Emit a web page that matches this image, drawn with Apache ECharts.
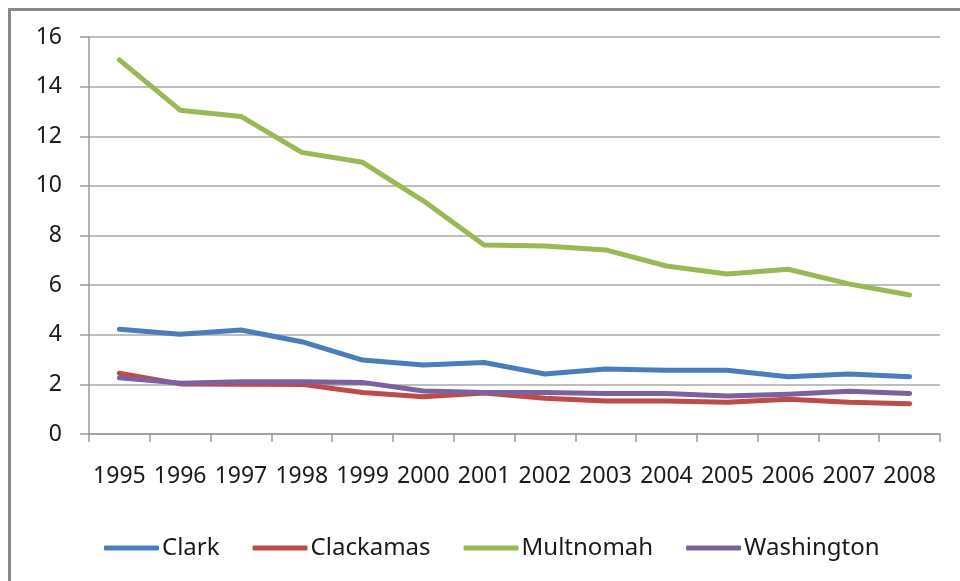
<!DOCTYPE html>
<html>
<head>
<meta charset="utf-8">
<script src="https://cdn.jsdelivr.net/npm/echarts@6/dist/echarts.min.js"></script>
<style>html,body{margin:0;padding:0;background:#fff;}#c{width:960px;height:581px;}</style>
</head>
<body>
<div id="c"></div>
<script>
const years = ['1995','1996','1997','1998','1999','2000','2001','2002','2003','2004','2005','2006','2007','2008'];
const clark = [4.22,4.02,4.19,3.72,2.98,2.78,2.88,2.42,2.62,2.57,2.57,2.31,2.42,2.31];
const clackamas = [2.45,2.02,2.0,2.0,1.67,1.5,1.65,1.44,1.33,1.33,1.28,1.4,1.28,1.22];
const multnomah = [15.08,13.05,12.8,11.35,10.95,9.4,7.62,7.58,7.42,6.77,6.45,6.64,6.05,5.6];
const washington = [2.27,2.05,2.11,2.11,2.08,1.73,1.67,1.67,1.63,1.63,1.53,1.6,1.72,1.63];
const yTicks = {min: 0, max: 16, interval: 2};

const names = ['Clark','Clackamas','Multnomah','Washington'];
const colors = ['#4A7EBB','#BE4B48','#98B954','#7D60A0'];
const values = [clark, clackamas, multnomah, washington];
const font = '"Noto Sans", sans-serif';

const chart = echarts.init(document.getElementById('c'), null, {renderer: 'canvas'});
chart.setOption({
  animation: false,
  backgroundColor: '#ffffff',
  graphic: [{
    type: 'rect', left: 7, top: 7, shape: {x: 0, y: 0, width: 1000, height: 1000},
    style: {fill: 'none', stroke: '#8a8a8a', lineWidth: 3}, silent: true, z: 0
  }],
  grid: {left: 89, right: 20, top: 37, bottom: 147, containLabel: false},
  legend: {
    left: 99, top: 531,
    icon: 'roundRect', itemWidth: 55, itemHeight: 5, itemGap: 33,
    textStyle: {fontFamily: font, fontSize: 24, color: '#1a1a1a', padding: [0,0,0,-2]},
    data: names
  },
  xAxis: {
    type: 'category', data: years, boundaryGap: true,
    axisLine: {lineStyle: {color: '#9a9a9a', width: 1.5}},
    axisTick: {show: true, length: 8, lineStyle: {color: '#9a9a9a', width: 1.5}, alignWithLabel: false},
    axisLabel: {interval: 0, margin: 31, fontFamily: font, fontSize: 23, color: '#1a1a1a'},
    splitLine: {show: false}
  },
  yAxis: {
    type: 'value', min: yTicks.min, max: yTicks.max, interval: yTicks.interval,
    axisLine: {show: true, lineStyle: {color: '#9a9a9a', width: 1.5}},
    axisTick: {show: true, length: 9, lineStyle: {color: '#9a9a9a', width: 1.5}},
    axisLabel: {margin: 27, fontFamily: font, fontSize: 23, color: '#1a1a1a'},
    splitLine: {show: true, lineStyle: {color: '#a8a8a8', width: 1.5}}
  },
  series: names.map((n, i) => ({
    name: n, type: 'line', data: values[i],
    showSymbol: false, symbol: 'none', smooth: false,
    lineStyle: {color: colors[i], width: 5, cap: 'round', join: 'round'},
    itemStyle: {color: colors[i]}
  }))
});
</script>
</body>
</html>
